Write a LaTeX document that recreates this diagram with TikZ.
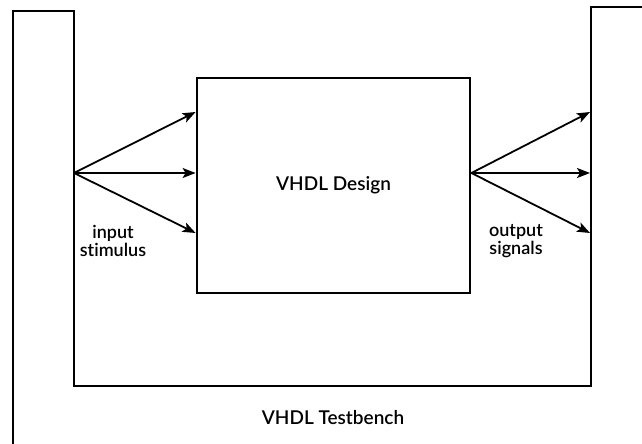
\documentclass[tikz,border=0pt]{standalone}
\usepackage{fontspec}
\setmainfont{Lato Semibold}[Ligatures=NoCommon]
\usetikzlibrary{arrows.meta}
\begin{document}
\begin{tikzpicture}[x=1pt,y=-1pt,
  wall/.style={line width=2.8pt,line join=miter},
  designbox/.style={draw,line width=2.8pt,minimum width=273pt,minimum height=215pt,inner sep=0pt,font=\fontsize{19}{21}\selectfont},
  sig/.style={line width=1.8pt,-{Stealth[length=13pt,width=10pt,inset=3pt]}},
  lbl/.style={align=center,font=\fontsize{18}{18.5}\selectfont,inner sep=0pt}]
\useasboundingbox (0,0) rectangle (642,444);
% testbench wall
\coordinate (ol) at (13,446);
\coordinate (otl) at (13,11);
\coordinate (itl) at (74,11);
\coordinate (ibl) at (74,386);
\coordinate (ibr) at (591,386);
\coordinate (itr) at (591,7);
\coordinate (otr) at (644,7);
\draw[wall] (ol) -- (otl) -- (itl) -- (ibl) -- (ibr) -- (itr) -- (otr);
% design
\node[designbox] (des) at (333.5,185.5) {VHDL Design};
% fan points
\coordinate (in) at (74,173);
\coordinate (out) at (des.east |- in);
\coordinate (i1) at (des.west |- 0,112);
\coordinate (i2) at (des.west |- 0,173);
\coordinate (i3) at (des.west |- 0,233);
\coordinate (o1) at (590,112);
\coordinate (o2) at (590,173);
\coordinate (o3) at (590,233);
\draw[sig] (in) -- (i1);
\draw[sig] (in) -- (i2);
\draw[sig] (in) -- (i3);
\draw[sig] (out) -- (o1);
\draw[sig] (out) -- (o2);
\draw[sig] (out) -- (o3);
% labels
\node[lbl] (lin) at (113,241) {input\\stimulus};
\node[lbl] (lout) at (516,241) {output\\signals};
\node[lbl,font=\fontsize{19}{19}\selectfont] (tb) at (333,418) {VHDL Testbench};
\end{tikzpicture}
\end{document}
